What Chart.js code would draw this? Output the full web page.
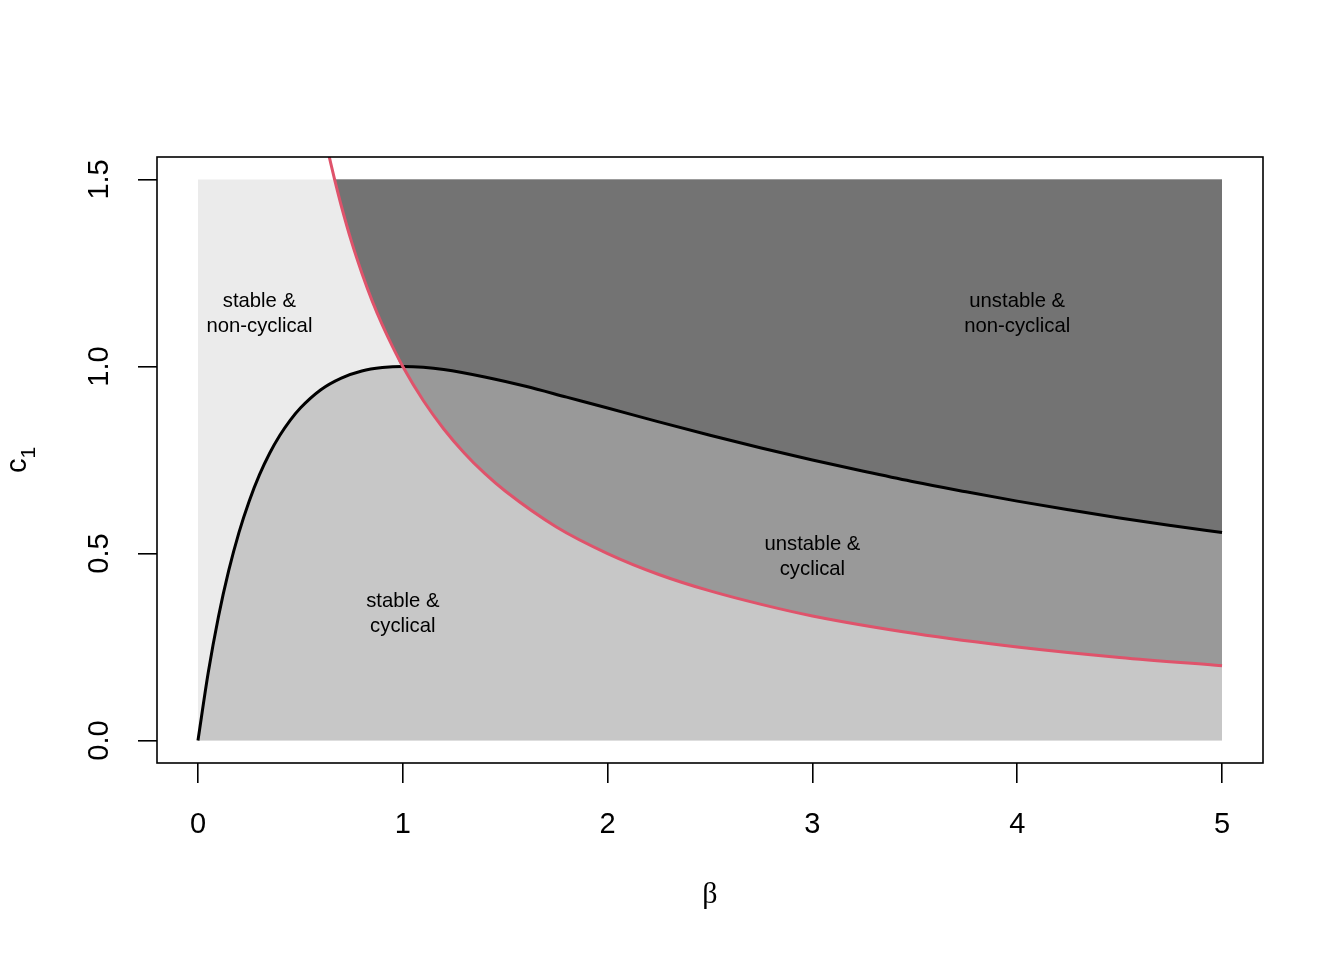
<!DOCTYPE html>
<html>
<head>
<meta charset="utf-8">
<script src="https://cdn.jsdelivr.net/npm/chart.js@4.4.1/dist/chart.umd.min.js"></script>
<style>
  html, body { margin: 0; padding: 0; background: #ffffff; }
  #wrap { width: 1344px; height: 960px; }
</style>
</head>
<body>
<div id="wrap"><canvas id="chart" width="1344" height="960"></canvas></div>
<script>
// black boundary
const betaBlack = [0, 0.05, 0.1, 0.15, 0.2, 0.25, 0.3, 0.35, 0.4, 0.45, 0.5, 0.6, 0.7, 0.8, 0.9, 1,
  1.1, 1.2, 1.4, 1.6, 1.8, 2, 2.25, 2.5, 2.75, 3, 3.25, 3.5, 3.75, 4, 4.25, 4.5, 4.75, 5];
const c1Black = [0, 0.181, 0.331, 0.454, 0.556, 0.640, 0.710, 0.768, 0.816, 0.856, 0.889, 0.938,
  0.969, 0.988, 0.997, 1.0, 0.998, 0.992, 0.972, 0.947, 0.918, 0.889, 0.852, 0.816, 0.782, 0.750,
  0.720, 0.691, 0.665, 0.640, 0.617, 0.595, 0.575, 0.556];

// red boundary
const betaRed = [0.64, 0.667, 0.7, 0.75, 0.8, 0.85, 0.9, 0.95, 1, 1.1, 1.2, 1.3, 1.4, 1.5, 1.75,
  2, 2.25, 2.5, 2.75, 3, 3.5, 4, 4.5, 5];
const c1Red = [1.563, 1.5, 1.429, 1.333, 1.25, 1.176, 1.111, 1.053, 1.0, 0.909, 0.833, 0.769, 0.714,
  0.667, 0.571, 0.5, 0.444, 0.4, 0.364, 0.333, 0.286, 0.25, 0.222, 0.2];

// shaded parameter window
const regionBeta = [0, 5];
const regionTop = 1.5;

const betaTicks = [0, 1, 2, 3, 4, 5];
const c1Ticks = [0, 0.5, 1, 1.5];

const labelText = [["stable &", "non-cyclical"], ["unstable &", "non-cyclical"],
  ["unstable &", "cyclical"], ["stable &", "cyclical"]];
const labelBeta = [0.3, 4, 3, 1];
const labelC1 = [1.14, 1.14, 0.49, 0.338];

const pts = (xs, ys) => xs.map((x, i) => ({ x: x, y: ys[i] }));

const blackPts = pts(betaBlack, c1Black);
const redPts = pts(betaRed, c1Red);
const redInside = redPts.filter(p => p.y <= regionTop);
// lower edge of the darkest zone: red up to b=1, black after
const upperEdge = redInside.filter(p => p.x <= 1).concat(blackPts.filter(p => p.x > 1));

const FONT = "'Liberation Sans', Arial, Helvetica, sans-serif";
const noLine = "rgba(0,0,0,0)";

const regionText = {
  id: "regionText",
  afterDatasetsDraw(chart) {
    const { ctx, scales: { x, y } } = chart;
    ctx.save();
    ctx.fillStyle = "#000";
    ctx.font = "20.3px " + FONT;
    ctx.textAlign = "center";
    ctx.textBaseline = "middle";
    labelText.forEach((lines, i) => {
      const px = x.getPixelForValue(labelBeta[i]);
      const py = y.getPixelForValue(labelC1[i]);
      const lh = 25;
      lines.forEach((t, j) => {
        ctx.fillText(t, px, py + (j - (lines.length - 1) / 2) * lh);
      });
    });
    ctx.restore();
  },
  afterDraw(chart) {
    const { ctx, chartArea: a } = chart;
    ctx.save();
    ctx.strokeStyle = "#000";
    ctx.lineWidth = 1.6;
    ctx.strokeRect(a.left, a.top, a.right - a.left, a.bottom - a.top);

    // y title: c with subscript 1, rotated
    const cy = (a.top + a.bottom) / 2;
    ctx.translate(a.left - 131, cy);
    ctx.rotate(-Math.PI / 2);
    ctx.fillStyle = "#000";
    ctx.textBaseline = "alphabetic";
    ctx.textAlign = "left";
    ctx.font = "29px " + FONT;
    const wc = ctx.measureText("c").width;
    ctx.font = "21px " + FONT;
    const w1 = ctx.measureText("1").width;
    const start = -(wc + w1) / 2;
    ctx.font = "29px " + FONT;
    ctx.fillText("c", start, 0);
    ctx.font = "21px " + FONT;
    ctx.fillText("1", start + wc, 9);
    ctx.restore();
  }
};

new Chart(document.getElementById("chart").getContext("2d"), {
  type: "line",
  data: {
    datasets: [
      {
        data: pts(regionBeta, [regionTop, regionTop]),
        fill: "origin", backgroundColor: "#EBEBEB",
        borderColor: noLine, borderWidth: 0, pointRadius: 0, order: 6
      },
      {
        data: blackPts,
        fill: "origin", backgroundColor: "#C7C7C7",
        borderColor: noLine, borderWidth: 0, pointRadius: 0,
        cubicInterpolationMode: "monotone", order: 5
      },
      {
        data: redInside,
        fill: { value: regionTop }, backgroundColor: "#999999",
        borderColor: noLine, borderWidth: 0, pointRadius: 0,
        cubicInterpolationMode: "monotone", order: 4
      },
      {
        data: upperEdge,
        fill: { value: regionTop }, backgroundColor: "#737373",
        borderColor: noLine, borderWidth: 0, pointRadius: 0,
        cubicInterpolationMode: "monotone", order: 3
      },
      {
        data: blackPts,
        fill: false, borderColor: "#000000", borderWidth: 3, pointRadius: 0,
        cubicInterpolationMode: "monotone", order: 2
      },
      {
        data: redPts,
        fill: false, borderColor: "#DF536B", borderWidth: 3, pointRadius: 0,
        cubicInterpolationMode: "monotone", order: 1
      }
    ]
  },
  options: {
    responsive: false,
    animation: false,
    devicePixelRatio: 1,
    events: [],
    layout: { padding: { left: 0, top: 157, right: 81, bottom: 0 } },
    plugins: { legend: { display: false }, tooltip: { enabled: false } },
    scales: {
      x: {
        type: "linear", position: "bottom", min: -0.2, max: 5.2,
        afterBuildTicks: (s) => { s.ticks = betaTicks.map(v => ({ value: v })); },
        afterFit: (s) => { s.height = 197; },
        grid: { drawOnChartArea: false, drawTicks: true, tickLength: 20, color: "#000", lineWidth: 1.6 },
        border: { display: false },
        ticks: { color: "#000", font: { family: FONT, size: 29 }, padding: 25, maxRotation: 0, minRotation: 0 },
        title: {
          display: true, text: "β", color: "#000",
          font: { family: "'Liberation Serif', 'DejaVu Serif', serif", size: 30 },
          padding: { top: 0, bottom: 47 }
        }
      },
      y: {
        type: "linear", position: "left", min: -0.06, max: 1.56,
        afterBuildTicks: (s) => { s.ticks = c1Ticks.map(v => ({ value: v })); },
        afterFit: (s) => { s.width = 157; },
        grid: { drawOnChartArea: false, drawTicks: true, tickLength: 19, color: "#000", lineWidth: 1.6 },
        border: { display: false },
        ticks: {
          color: "#000", font: { family: FONT, size: 29 }, padding: 18,
          minRotation: 90, maxRotation: 90, crossAlign: "center",
          callback: (v) => v.toFixed(1)
        }
      }
    }
  },
  plugins: [regionText]
});
</script>
</body>
</html>
